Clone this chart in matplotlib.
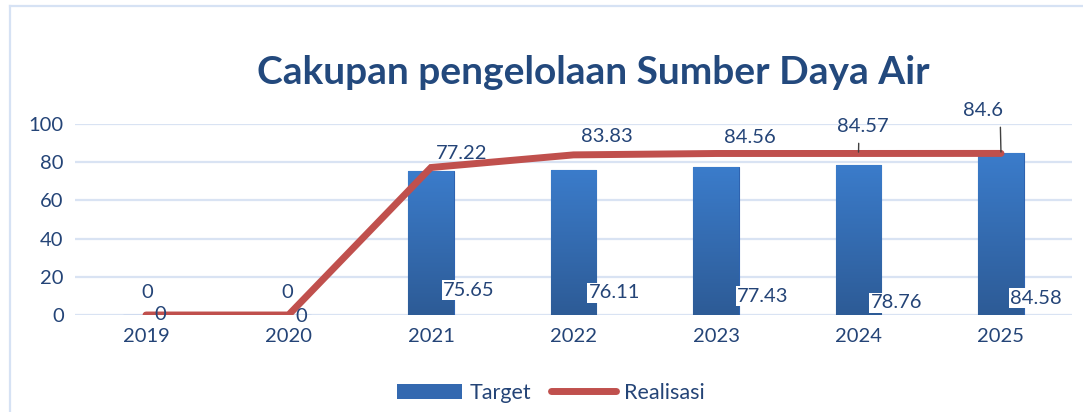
import matplotlib
matplotlib.use("Agg")
import matplotlib.pyplot as plt
import numpy as np
from matplotlib.colors import LinearSegmentedColormap
from matplotlib.lines import Line2D
from matplotlib.patches import Patch

years = ["2019", "2020", "2021", "2022", "2023", "2024", "2025"]
target = [0, 0, 75.65, 76.11, 77.43, 78.76, 84.58]
realisasi = [0, 0, 77.22, 83.83, 84.56, 84.57, 84.6]
title = "Cakupan pengelolaan Sumber Daya Air"

# label offsets in pixels (style, not data)
bar_lbl_off = [(14, 0), (13, -1), (38, 25), (41, 22), (47, 19), (38, 12), (35, 17)]
line_lbl_off = [(1, 22), (-1, 22), (31, 14), (33, 18), (34, 16), (4, 27), (-18, 43)]
leader = [None, None, None, None, None, 0.43, 0.93]

plt.rcParams['font.family'] = ['Lato', 'DejaVu Sans']
txt_col = '#244477'
grid_col = '#D9E3F3'
fs = 14.5

fig = plt.figure(figsize=(10.83, 4.12), dpi=100)
ax = fig.add_axes([74.75/1083, 97/412, 997.5/1083, 191/412])

x = np.arange(len(years))
ax.set_xlim(-0.5, 6.5)
ax.set_ylim(0, 100)
ax.set_yticks([0, 20, 40, 60, 80, 100])
ax.grid(axis='y', color=grid_col, lw=1.6)
ax.set_axisbelow(True)
for s in ax.spines.values():
    s.set_visible(False)
ax.tick_params(length=0, labelsize=fs, colors=txt_col)
ax.tick_params(axis='y', pad=8)
ax.tick_params(axis='x', pad=9)
ax.set_xticks(x)
ax.set_xticklabels(years)

bars = ax.bar(x, target, width=0.316, color='#3469B0', edgecolor='#2E63B0', lw=0.8, zorder=2)
cmap = LinearSegmentedColormap.from_list('g', ['#2D5B96', '#3B7CCB'])
grad = np.linspace(0, 1, 256).reshape(-1, 1)
for b in bars:
    h = b.get_height()
    if h <= 0:
        continue
    im = ax.imshow(grad, cmap=cmap, origin='lower', aspect='auto',
                   extent=[b.get_x(), b.get_x() + b.get_width(), 0, h], zorder=2.5)
    im.set_clip_path(b)
ax.set_xlim(-0.5, 6.5)
ax.set_ylim(0, 100)

ax.plot(x, realisasi, color='#C0504D', lw=5, solid_capstyle='round',
        solid_joinstyle='miter', zorder=3)

for i, v in enumerate(target):
    dx, dy = bar_lbl_off[i]
    ax.annotate(f"{v:g}", (x[i], 0), xytext=(dx, dy), textcoords='offset pixels',
                ha='center', va='center', fontsize=fs, color=txt_col, zorder=5,
                bbox=dict(facecolor='white', edgecolor='none', pad=1) if v > 0 else None,
                annotation_clip=False)

for i, v in enumerate(realisasi):
    dx, dy = line_lbl_off[i]
    kw = {}
    if leader[i] is not None:
        kw['arrowprops'] = dict(arrowstyle='-', color='#404040', lw=1,
                                relpos=(leader[i], 0), shrinkA=4, shrinkB=1)
    ax.annotate(f"{v:g}", (x[i], v), xytext=(dx, dy), textcoords='offset pixels',
                ha='center', va='center', fontsize=fs, color=txt_col, zorder=5,
                annotation_clip=False, **kw)

fig.text(593/1083, 1 - 73/412, title, ha='center', va='center', fontsize=28,
         fontweight='bold', color='#23497D')

handles = [Patch(facecolor='#3469B0', edgecolor='none'),
           Line2D([0], [0], color='#C0504D', lw=5, solid_capstyle='round')]
fig.legend(handles, ['Target', 'Realisasi'], loc='center', bbox_to_anchor=(551/1083, 1 - 393/412),
           ncol=2, frameon=False, fontsize=15.5, labelcolor=txt_col,
           handlelength=3.0, handleheight=0.75, handletextpad=0.4, columnspacing=0.9)

# outer frame lines
fig.add_artist(Line2D([10/1083, 10/1083], [0, 1 - 5.5/412], transform=fig.transFigure,
                      color='#D6E2F4', lw=1.6))
fig.add_artist(Line2D([10/1083, 1], [1 - 5.5/412, 1 - 5.5/412], transform=fig.transFigure,
                      color='#D6E2F4', lw=1.6))

fig.savefig('out.png', dpi=100)
